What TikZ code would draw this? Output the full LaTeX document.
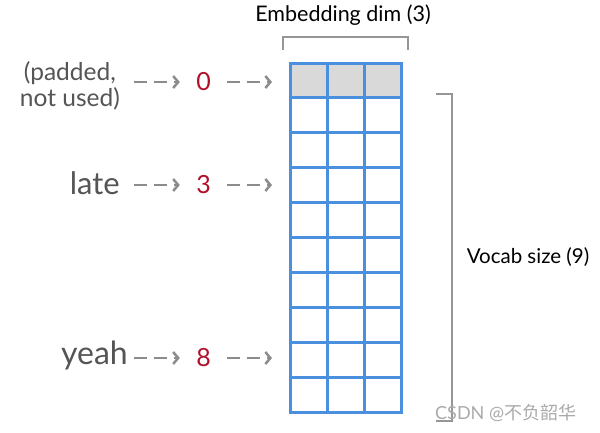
\documentclass[tikz,border=0pt]{standalone}
\usepackage{fontspec}
\setmainfont{Lato}
\newfontfamily\cjkfont{Noto Sans CJK SC}
\usetikzlibrary{arrows.meta}
\definecolor{gridblue}{RGB}{74,144,222}
\definecolor{padgray}{RGB}{217,217,217}
\definecolor{wordgray}{RGB}{85,85,85}
\definecolor{numred}{RGB}{176,16,42}
\definecolor{arrgray}{RGB}{140,140,140}
\definecolor{brgray}{RGB}{150,150,150}
\definecolor{wmgray}{RGB}{170,170,170}
\tikzset{
  cell/.style={draw=gridblue, line width=3pt, minimum width=37pt, minimum height=34.9pt, inner sep=0pt, outer sep=0pt},
  padcell/.style={cell, fill=padgray},
  word/.style={text=wordgray, inner sep=0pt, anchor=east},
  num/.style={text=numred, font=\fontsize{25}{25}\selectfont, minimum width=47pt, inner sep=0pt},
  dasharrow/.style={draw=arrgray, line width=2.5pt, dash pattern=on 13pt off 7pt, -{Straight Barb[length=5pt,width=12pt,line width=2.5pt]}},
  bracket/.style={draw=brgray, line width=1.5pt},
  label/.style={text=black, inner sep=0pt}
}
\begin{document}
\begin{tikzpicture}[x=1pt,y=-1pt]
\useasboundingbox (0,0) rectangle (600,432);
% grid
\foreach \r in {0,...,9}{
  \foreach \c in {0,1,2}{
    \ifnum\r=0
      \node[padcell] (c-\r-\c) at ({290+37*\c+18.5},{63+34.9*\r+17.45}) {};
    \else
      \node[cell] (c-\r-\c) at ({290+37*\c+18.5},{63+34.9*\r+17.45}) {};
    \fi
  }
}
% top bracket
\draw[bracket] (283,50) -- (283,37) -- (408,37) -- (408,50);
\node[label, font=\fontsize{21.5}{21.5}\selectfont] (emb) at (343,15) {Embedding dim (3)};
% right bracket
\draw[bracket] (436,94) -- (452,94) -- (452,421) -- (436,421);
\node[label, font=\fontsize{20.5}{20.5}\selectfont] (voc) at (528,257) {Vocab size (9)};
% words
\node[word, font=\fontsize{24.5}{26}\selectfont, align=center, anchor=east] (w0) at (120,86) {(padded,\\not used)};
\node[word, font=\fontsize{31}{31}\selectfont] (w3) at (120,183) {late};
\node[word, font=\fontsize{32}{32}\selectfont] (w8) at (128,355) {yeah};
% numbers
\node[num] (n0) at (203.5,82) {0};
\node[num] (n3) at (203.5,185) {3};
\node[num] (n8) at (203.5,358) {8};
% arrow start points
\coordinate (s0) at (134,82);
\coordinate (s3) at (134,185);
\coordinate (s8) at (134,358);
\draw[dasharrow] (s0) -- (n0.west);
\draw[dasharrow] (s3) -- (n3.west);
\draw[dasharrow] (s8) -- (n8.west);
\draw[dasharrow, shorten >=18pt] (n0.east) -- (c-0-0.west |- n0.east);
\draw[dasharrow, shorten >=18pt] (n3.east) -- (c-3-0.west |- n3.east);
\draw[dasharrow, shorten >=18pt] (n8.east) -- (c-8-0.west |- n8.east);
% watermark
\node[text=wmgray, inner sep=0pt, anchor=west, font=\fontsize{18}{18}\selectfont] (wm) at (435,413) {CSDN @{\cjkfont 不负韶华}};
\end{tikzpicture}
\end{document}
